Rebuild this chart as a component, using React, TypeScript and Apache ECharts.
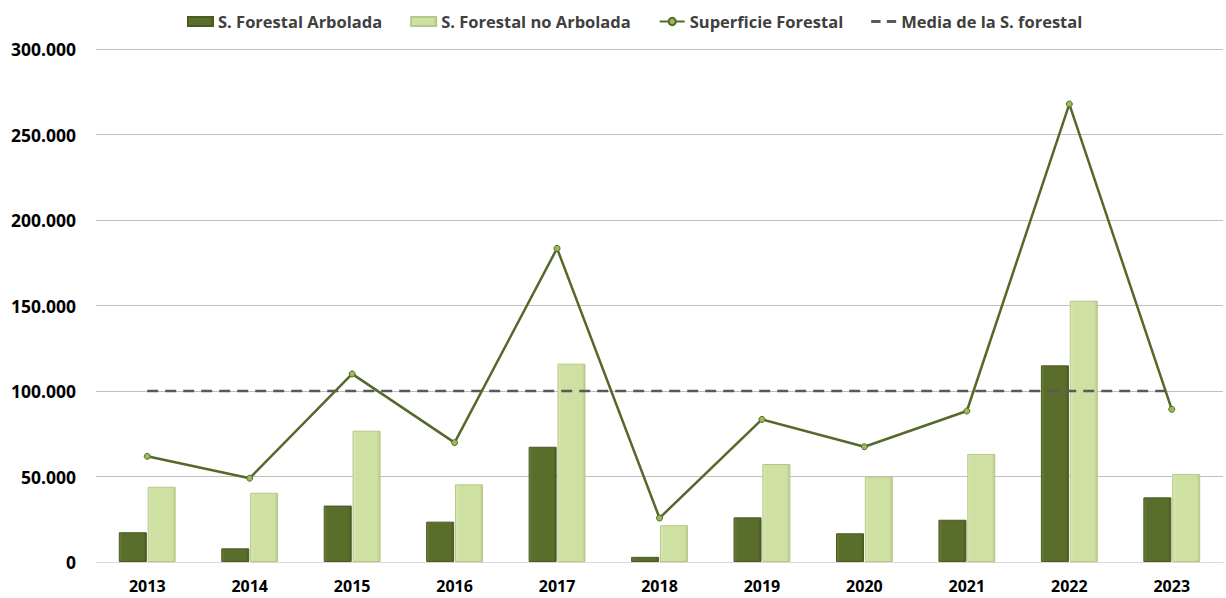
import React, { useEffect, useRef } from "react";
import * as echarts from "echarts";

const years = ["2013", "2014", "2015", "2016", "2017", "2018", "2019", "2020", "2021", "2022", "2023"];
const arbolada = [17400, 8000, 33000, 23600, 67400, 3000, 26100, 16800, 24700, 115000, 37800];
const noArbolada = [44000, 40500, 76800, 45400, 116000, 21500, 57300, 49900, 63200, 152800, 51500];
const superficie = [61800, 49000, 110000, 69800, 183400, 25700, 83400, 67400, 88300, 267800, 89300];
const media = [100000, 100000, 100000, 100000, 100000, 100000, 100000, 100000, 100000, 100000, 100000];

const fmt = (v: number) => {
  if (v === 0) return "0";
  const s = Math.round(v).toString();
  return s.replace(/\B(?=(\d{3})+(?!\d))/g, ".");
};

export default function App() {
  const ref = useRef<HTMLDivElement>(null);
  useEffect(() => {
    if (!ref.current) return;
    const chart = echarts.init(ref.current, undefined, { renderer: "svg" });
    const font = "'Open Sans', 'Noto Sans', sans-serif";
    chart.setOption({
      animation: false,
      backgroundColor: "#ffffff",
      textStyle: { fontFamily: font },
      legend: {
        top: 8,
        left: 182,
        itemGap: 28,
        itemWidth: 25,
        itemHeight: 9,
        textStyle: { fontSize: 16.5, fontWeight: "bold", color: "#404040", fontFamily: font },
        data: [
          { name: "S. Forestal Arbolada", icon: "rect" },
          { name: "S. Forestal no Arbolada", icon: "rect" },
          { name: "Superficie Forestal" },
          { name: "Media de la S. forestal", icon: "path://M0,0h9v3h-9z M15,0h9v3h-9z" },
        ],
      },
      grid: { left: 96, right: 3, top: 49, bottom: 36 },
      xAxis: {
        type: "category",
        data: years,
        axisTick: { show: false },
        axisLine: { show: true, lineStyle: { color: "#d9d9d9", width: 1 } },
        axisLabel: { fontSize: 16, fontWeight: "bold", color: "#000", margin: 16, fontFamily: font },
      },
      yAxis: {
        type: "value",
        min: 0,
        max: 300000,
        interval: 50000,
        axisLine: { show: false },
        axisTick: { show: false },
        splitLine: { lineStyle: { color: "#c0c0c0", width: 1 } },
        axisLabel: { fontSize: 17.5, fontWeight: "bold", color: "#000", margin: 20, formatter: fmt, fontFamily: font },
      },
      series: [
        {
          name: "S. Forestal Arbolada",
          type: "bar",
          data: arbolada,
          barWidth: 28,
          barGap: "3%",
          itemStyle: {
            color: new echarts.graphic.LinearGradient(0, 0, 1, 0, [
              { offset: 0, color: "#6a7f36" },
              { offset: 0.12, color: "#5a6e2c" },
              { offset: 0.88, color: "#5a6e2c" },
              { offset: 1, color: "#4a5c22" },
            ]),
            borderColor: "#4a5a22",
            borderWidth: 1,
          },
        },
        {
          name: "S. Forestal no Arbolada",
          type: "bar",
          data: noArbolada,
          barWidth: 28,
          barGap: "3%",
          itemStyle: {
            color: new echarts.graphic.LinearGradient(0, 0, 1, 0, [
              { offset: 0, color: "#dbe9b4" },
              { offset: 0.12, color: "#cfe1a2" },
              { offset: 0.88, color: "#cfe1a2" },
              { offset: 1, color: "#b8cc88" },
            ]),
            borderColor: "#b5c888",
            borderWidth: 1,
          },
        },
        {
          name: "Superficie Forestal",
          type: "line",
          data: superficie,
          symbol: "circle",
          symbolSize: 6,
          lineStyle: { color: "#55692a", width: 2.5 },
          itemStyle: { color: "#9bbb59", borderColor: "#55692a", borderWidth: 1 },
          z: 5,
        },
        {
          name: "Media de la S. forestal",
          type: "line",
          data: media,
          symbol: "none",
          lineStyle: { color: "#595959", width: 2.5, type: [11, 7] },
          itemStyle: { color: "#595959" },
          z: 4,
        },
      ],
    });
    return () => chart.dispose();
  }, []);
  return <div ref={ref} style={{ position: "fixed", left: 0, top: 0, width: 1226, height: 598 }} />;
}
